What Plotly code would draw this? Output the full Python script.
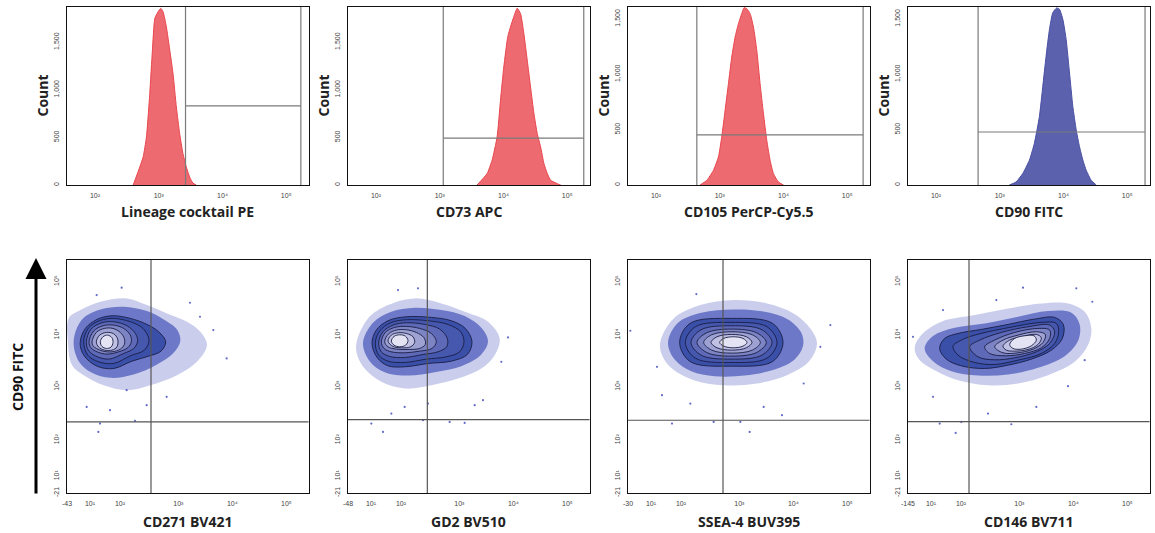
import plotly.graph_objects as go

# ---------------- data ----------------
hist_titles = ["Lineage cocktail PE", "CD73 APC", "CD105 PerCP-Cy5.5", "CD90 FITC"]
# histogram outlines: x = log10 intensity, y = count
lin_logx = [2.599, 2.703, 2.755, 2.807, 2.859, 2.901, 2.938, 2.990, 3.031, 3.068, 3.120, 3.172, 3.224, 3.276, 3.328, 3.380, 3.432, 3.484, 3.536, 3.589]
lin_count = [0, 190, 295, 505, 960, 1420, 1750, 1820, 1856, 1820, 1660, 1420, 1170, 820, 540, 330, 190, 85, 20, 0]
cd73_logx = [3.585, 3.743, 3.821, 3.900, 3.953, 4.005, 4.068, 4.110, 4.163, 4.215, 4.268, 4.320, 4.373, 4.425, 4.478, 4.530, 4.583, 4.635, 4.688, 4.740, 4.845, 4.898]
cd73_count = [0, 120, 260, 505, 890, 1240, 1560, 1660, 1770, 1856, 1800, 1590, 1310, 1030, 750, 540, 400, 225, 120, 50, 14, 0]
cd105_logx = [2.691, 2.796, 2.900, 2.979, 3.031, 3.084, 3.136, 3.188, 3.241, 3.293, 3.345, 3.382, 3.424, 3.476, 3.529, 3.581, 3.633, 3.686, 3.738, 3.790, 3.843, 3.921, 4.000]
cd105_count = [0, 42, 132, 253, 434, 675, 915, 1156, 1337, 1457, 1548, 1602, 1593, 1548, 1427, 1216, 915, 644, 403, 223, 102, 27, 0]
cd90_logx = [3.150, 3.255, 3.360, 3.465, 3.543, 3.622, 3.675, 3.727, 3.780, 3.832, 3.895, 3.937, 3.990, 4.042, 4.095, 4.147, 4.200, 4.252, 4.305, 4.357, 4.436, 4.514]
cd90_count = [0, 27, 103, 224, 376, 618, 890, 1163, 1406, 1557, 1600, 1588, 1497, 1315, 1012, 709, 497, 345, 224, 133, 42, 0]
hist_ymax = [1870, 1870, 1608, 1608]
hist_gate_lo = [3.42, 3.055, 2.64, 2.66]
hist_gate_hi = [5.23, 5.26, 5.25, 5.28]
hist_gate_y = [832, 492, 452, 479]
hist_xticks = [2, 3, 4, 5]
hist_xticklabels = ["10²", "10³", "10⁴", "10⁵"]
hist_yticks = [0, 500, 1000, 1500]

# dot plots: biexponential display channels (x 0-724, y 0-698)
dot_titles = ["CD271 BV421", "GD2 BV510", "SSEA-4 BUV395", "CD146 BV711"]
dot_xmin_labels = ["-43", "-48", "-30", "-145"]
dot_xticks = [69, 159, 334, 496, 658]
dot_yticks = [50, 158, 318, 473, 633]
dot_ticklabels = ["10¹", "10²", "10³", "10⁴", "10⁵"]
dot_ymin_label = "-21"
dot_gate_x = [252, 238, 285, 183]
dot_gate_y = [213, 220, 218, 214]

cd271_halo = [
    [(5, 523), (40, 548), (100, 573), (180, 583), (240, 563), (300, 538), (360, 513), (400, 483), (420, 443), (390, 393), (330, 353), (250, 323), (180, 308), (110, 323), (50, 353), (15, 383), (3, 450)],
    [(20, 455), (45, 520), (100, 550), (170, 558), (240, 545), (290, 520), (330, 490), (340, 455), (320, 420), (270, 385), (200, 355), (130, 345), (75, 360), (35, 395)],
]
cd271_levels = [
    [(40, 455), (55, 493), (90, 520), (135, 531), (190, 523), (240, 505), (275, 483), (296, 453), (282, 425), (245, 410), (195, 395), (140, 373), (95, 378), (60, 401), (43, 428)],
    [(50, 455), (65, 495), (100, 517), (140, 523), (190, 513), (228, 493), (246, 458), (232, 428), (190, 411), (140, 388), (95, 393), (62, 413)],
    [(58, 453), (72, 491), (105, 510), (140, 513), (180, 501), (205, 478), (212, 455), (200, 433), (170, 418), (125, 401), (85, 411), (64, 428)],
    [(66, 453), (80, 485), (108, 501), (140, 503), (170, 493), (190, 473), (193, 453), (182, 435), (155, 423), (120, 416), (90, 423), (72, 435)],
    [(75, 453), (88, 481), (112, 493), (138, 493), (160, 481), (172, 463), (172, 445), (160, 431), (135, 423), (108, 425), (88, 433), (78, 441)],
    [(88, 453), (98, 473), (118, 481), (140, 477), (152, 461), (150, 438), (135, 428), (112, 428), (95, 437)],
    [(100, 453), (108, 468), (122, 473), (135, 465), (138, 451), (132, 437), (118, 433), (105, 439)],
]
cd271_sparse = [(164, 615), (89, 593), (479, 403), (369, 570), (399, 528), (439, 488), (94, 183), (99, 208), (204, 216), (239, 263), (299, 288), (59, 258), (129, 248), (179, 308)]

gd2_halo = [
    [(25, 448), (60, 523), (120, 563), (200, 583), (280, 568), (350, 543), (420, 513), (455, 463), (440, 413), (400, 373), (330, 343), (250, 323), (170, 313), (100, 333), (50, 373), (28, 413)],
    [(45, 450), (75, 510), (130, 543), (200, 555), (280, 548), (350, 530), (400, 495), (420, 455), (400, 415), (340, 380), (260, 362), (180, 352), (110, 362), (65, 395)],
]
gd2_levels = [
    [(72, 448), (85, 488), (120, 516), (175, 528), (250, 526), (310, 516), (352, 493), (372, 453), (358, 415), (310, 395), (240, 388), (170, 378), (120, 381), (88, 405)],
    [(82, 450), (95, 485), (128, 510), (175, 519), (240, 516), (300, 505), (338, 483), (348, 453), (335, 423), (295, 408), (235, 401), (170, 391), (120, 395), (92, 413)],
    [(92, 451), (105, 483), (135, 503), (175, 510), (230, 505), (275, 491), (298, 463), (296, 438), (270, 423), (225, 415), (170, 406), (125, 409), (100, 423)],
    [(100, 453), (112, 481), (140, 496), (175, 499), (215, 493), (250, 478), (265, 453), (252, 433), (215, 425), (170, 420), (130, 423), (108, 433)],
    [(110, 453), (122, 477), (145, 488), (175, 489), (205, 481), (228, 465), (232, 445), (215, 433), (180, 430), (145, 431), (120, 438)],
    [(120, 455), (130, 473), (150, 480), (175, 478), (195, 468), (200, 451), (188, 438), (160, 435), (135, 439)],
    [(130, 455), (138, 469), (155, 474), (172, 470), (180, 457), (173, 443), (155, 438), (138, 443)],
]
gd2_sparse = [(210, 613), (70, 208), (105, 183), (225, 218), (305, 213), (350, 210), (405, 278), (480, 466), (460, 393), (150, 608), (130, 238), (170, 258), (240, 268), (380, 263)]

ssea4_halo = [
    [(97, 453), (137, 523), (217, 563), (317, 578), (417, 568), (497, 538), (547, 493), (567, 448), (542, 393), (477, 353), (387, 328), (287, 323), (197, 338), (132, 373), (102, 413)],
    [(120, 451), (150, 510), (220, 540), (317, 550), (410, 543), (480, 520), (520, 480), (525, 440), (500, 400), (440, 370), (350, 352), (260, 350), (190, 365), (140, 400)],
]
ssea4_levels = [
    [(155, 451), (186, 508), (310, 523), (434, 508), (465, 451), (434, 394), (310, 380), (186, 394)],
    [(172, 451), (202, 498), (309, 511), (417, 498), (447, 451), (417, 404), (309, 391), (202, 404)],
    [(189, 451), (219, 489), (311, 501), (402, 489), (432, 451), (402, 413), (311, 401), (219, 413)],
    [(207, 451), (236, 480), (311, 491), (386, 480), (415, 451), (386, 421), (311, 410), (236, 421)],
    [(227, 451), (251, 474), (312, 483), (373, 474), (397, 451), (373, 428), (312, 419), (251, 428)],
    [(249, 451), (267, 468), (311, 475), (355, 468), (372, 451), (355, 435), (311, 428), (267, 435)],
    [(275, 451), (287, 463), (316, 468), (345, 463), (357, 451), (345, 440), (316, 435), (287, 440)],
]
ssea4_sparse = [(205, 596), (132, 208), (257, 213), (365, 183), (337, 213), (462, 233), (607, 503), (577, 438), (7, 486), (87, 378), (102, 293), (407, 258), (187, 268), (527, 328)]

cd146_halo = [
    [(20, 433), (40, 473), (100, 513), (200, 533), (300, 553), (400, 568), (480, 568), (530, 543), (550, 493), (540, 443), (500, 393), (420, 353), (330, 328), (240, 323), (150, 338), (80, 368), (35, 398)],
    [(50, 433), (75, 470), (140, 495), (230, 508), (330, 528), (420, 545), (490, 540), (515, 505), (510, 455), (470, 410), (390, 375), (300, 355), (210, 352), (130, 365), (75, 395)],
]
cd146_levels = [
    [(95, 433), (110, 463), (150, 478), (220, 490), (300, 505), (380, 521), (440, 526), (466, 505), (463, 463), (430, 428), (370, 401), (300, 383), (230, 373), (160, 381), (115, 401)],
    [(135, 440), (160, 458), (200, 473), (300, 495), (400, 511), (445, 508), (452, 483), (440, 448), (400, 418), (330, 398), (260, 385), (200, 391), (150, 413)],
    [(185, 438), (215, 458), (280, 481), (360, 498), (425, 503), (440, 483), (425, 448), (385, 423), (320, 405), (260, 399), (210, 408)],
    [(230, 438), (260, 458), (320, 481), (390, 493), (425, 488), (425, 463), (400, 435), (350, 418), (295, 411), (245, 418)],
    [(260, 438), (285, 458), (330, 473), (385, 483), (412, 475), (405, 451), (375, 431), (330, 420), (285, 420)],
    [(285, 440), (305, 458), (340, 468), (385, 475), (400, 465), (390, 445), (360, 430), (320, 425), (295, 428)],
    [(305, 445), (320, 463), (350, 471), (378, 471), (385, 458), (370, 441), (340, 431), (315, 433)],
]
cd146_sparse = [(345, 615), (505, 613), (553, 573), (265, 578), (95, 208), (143, 180), (160, 213), (310, 206), (240, 238), (385, 258), (480, 320), (75, 288), (530, 398), (105, 548), (15, 468)]

# ---------------- styling ----------------
W, H = 1155, 533
ML, MR, MT, MB = 67, 5, 7, 40
PW, PH = W - ML - MR, H - MT - MB
col_left_px = [67, 348, 628, 908]
panel_w_px = 241.5
top_px, bottom_px = (7, 185), (260, 493)

def xdom(i):
    return [(col_left_px[i] - ML) / PW, min(1.0, (col_left_px[i] + panel_w_px - ML) / PW)]

def ydom(rng):
    return [(H - MB - rng[1]) / PH, (H - MB - rng[0]) / PH]

hist_x = [lin_logx, cd73_logx, cd105_logx, cd90_logx]
hist_y = [lin_count, cd73_count, cd105_count, cd90_count]
hist_fill = ["rgba(236,98,104,0.95)"] * 3 + ["rgba(82,88,168,0.95)"]
hist_line = ["#e8464d"] * 3 + ["#4a50a2"]

halos = [cd271_halo, gd2_halo, ssea4_halo, cd146_halo]
levels = [cd271_levels, gd2_levels, ssea4_levels, cd146_levels]
sparse = [cd271_sparse, gd2_sparse, ssea4_sparse, cd146_sparse]
level_colors = ["#3a4fa8", "#4658ae", "#5e69b7", "#7d84c4", "#9ea2d2", "#c0c1e3", "#e3e3f3"]
halo_colors = ["rgba(80,92,192,0.30)", "rgba(52,70,178,0.62)"]

tick_font = dict(family="Liberation Sans", size=7, color="#444")
title_font = dict(family="Open Sans", size=14, color="#222")
frame = dict(showgrid=False, zeroline=False, showline=True, mirror=True, linecolor="#111", linewidth=1.3,
             ticks="outside", tickcolor="rgba(0,0,0,0)", tickfont=tick_font, automargin=False)

fig = go.Figure()
shapes, annotations = [], []
gate_color = "#7a7a7a"

for i in range(4):
    ax = "" if i == 0 else str(i + 1)
    fig.add_trace(go.Scatter(
        x=hist_x[i], y=hist_y[i], mode="lines", fill="tozeroy",
        fillcolor=hist_fill[i], line=dict(color=hist_line[i], width=1, shape="spline", smoothing=0.5),
        xaxis="x" + ax, yaxis="y" + ax, hoverinfo="skip", showlegend=False))
    lo, hi, gy = hist_gate_lo[i], hist_gate_hi[i], hist_gate_y[i]
    shapes += [
        dict(type="line", xref="x" + ax, yref="y" + ax + " domain", x0=lo, x1=lo, y0=0, y1=1, line=dict(color=gate_color, width=1.2)),
        dict(type="line", xref="x" + ax, yref="y" + ax + " domain", x0=hi, x1=hi, y0=0, y1=1, line=dict(color=gate_color, width=1.2)),
        dict(type="line", xref="x" + ax, yref="y" + ax, x0=lo, x1=hi, y0=gy, y1=gy, line=dict(color=gate_color, width=1.2)),
    ]
    d = xdom(i)
    annotations.append(dict(text="<b>%s</b>" % hist_titles[i], xref="paper", yref="paper",
                            x=(d[0] + d[1]) / 2, y=(H - MB - 211) / PH, showarrow=False,
                            font=title_font, xanchor="center", yanchor="middle"))
    annotations.append(dict(text="<b>Count</b>", xref="paper", yref="paper",
                            x=d[0] - 25.5 / PW, y=(H - MB - 96) / PH, showarrow=False, textangle=-90,
                            font=title_font, xanchor="center", yanchor="middle"))
    fig.update_layout(**{
        "xaxis" + ax: dict(frame, domain=d, range=[1.56, 5.35], tickvals=hist_xticks, ticktext=hist_xticklabels,
                           ticklen=3, anchor="y" + ax),
        "yaxis" + ax: dict(frame, domain=ydom(top_px), range=[0, hist_ymax[i]], tickvals=hist_yticks, tickformat=",",
                           ticklen=4, tickangle=-90, anchor="x" + ax),
    })

for i in range(4):
    n = str(i + 5)
    xa, ya = "x" + n, "y" + n
    for k, poly in enumerate(halos[i]):
        px = [p[0] for p in poly] + [poly[0][0]]
        py = [p[1] for p in poly] + [poly[0][1]]
        fig.add_trace(go.Scatter(
            x=px, y=py, mode="lines", fill="toself", fillcolor=halo_colors[k],
            line=dict(width=0, shape="spline", smoothing=1), xaxis=xa, yaxis=ya,
            hoverinfo="skip", showlegend=False))
    fig.add_trace(go.Scatter(
        x=[p[0] for p in sparse[i]], y=[p[1] for p in sparse[i]], mode="markers",
        marker=dict(size=2.2, color="rgba(60,70,185,0.8)"), xaxis=xa, yaxis=ya,
        hoverinfo="skip", showlegend=False))
    for k, poly in enumerate(levels[i]):
        px = [p[0] for p in poly] + [poly[0][0]]
        py = [p[1] for p in poly] + [poly[0][1]]
        fig.add_trace(go.Scatter(
            x=px, y=py, mode="lines", fill="toself", fillcolor=level_colors[k],
            line=dict(color="#1a1d45", width=0.9, shape="spline", smoothing=1),
            xaxis=xa, yaxis=ya, hoverinfo="skip", showlegend=False))
    shapes += [
        dict(type="line", xref=xa, yref=ya + " domain", x0=dot_gate_x[i], x1=dot_gate_x[i], y0=0, y1=1,
             line=dict(color="#555", width=1.2)),
        dict(type="line", xref=xa + " domain", yref=ya, x0=0, x1=1, y0=dot_gate_y[i], y1=dot_gate_y[i],
             line=dict(color="#555", width=1.2)),
    ]
    d = xdom(i)
    annotations.append(dict(text="<b>%s</b>" % dot_titles[i], xref="paper", yref="paper",
                            x=(d[0] + d[1]) / 2, y=(H - MB - 521) / PH, showarrow=False,
                            font=title_font, xanchor="center", yanchor="middle"))
    fig.update_layout(**{
        "xaxis" + n: dict(frame, domain=d, range=[0, 724.5], tickvals=[0] + dot_xticks,
                          ticktext=[dot_xmin_labels[i]] + dot_ticklabels, ticklen=3, anchor=ya),
        "yaxis" + n: dict(frame, domain=ydom(bottom_px), range=[0, 698], tickvals=[0] + dot_yticks,
                          ticktext=[dot_ymin_label] + dot_ticklabels, ticklen=4, tickangle=-90, anchor=xa),
    })

# y-axis title with arrow for the dot plots
annotations.append(dict(text="<b>CD90 FITC</b>", xref="paper", yref="paper",
                        x=(17 - ML) / PW, y=(H - MB - 377) / PH, showarrow=False, textangle=-90,
                        font=dict(family="Open Sans", size=14, color="#111"), xanchor="center", yanchor="middle"))
annotations.append(dict(text="", xref="paper", yref="paper", x=(36 - ML) / PW, y=(H - MB - 258) / PH,
                        showarrow=True, ax=0, ay=237, arrowhead=2, arrowsize=1.4, arrowwidth=3,
                        arrowcolor="#000"))

fig.update_layout(width=W, height=H, margin=dict(l=ML, r=MR, t=MT, b=MB, autoexpand=False),
                  paper_bgcolor="white", plot_bgcolor="white", showlegend=False, hovermode=False,
                  shapes=shapes, annotations=annotations)
fig.write_html("out.html", config={"displayModeBar": False, "staticPlot": True},
               post_script="document.body.style.margin='0';document.body.style.overflow='hidden';")
